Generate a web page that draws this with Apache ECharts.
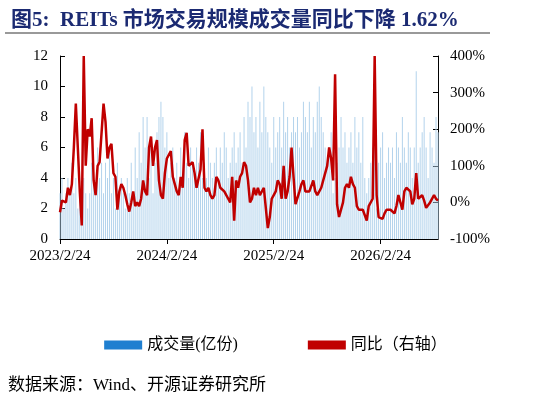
<!DOCTYPE html><html><head><meta charset="utf-8"><script src="https://cdn.jsdelivr.net/npm/echarts@6/dist/echarts.min.js"></script>
<style>body{margin:0}#c{width:551px;height:406px}</style></head><body><div id="c"></div><script>
const ratio=[-27,5,9,0,40,20,50,150,270,150,30,-63,400,100,200,180,230,60,20,100,110,110,270,220,120,150,160,80,70,-20,30,50,40,20,-5,-25,0,30,-10,0,-10,10,60,30,20,150,180,100,150,170,60,20,10,80,120,120,140,70,50,30,20,70,40,170,190,100,100,110,80,40,40,90,200,40,30,40,20,10,20,70,60,40,40,30,30,10,0,70,-50,60,40,70,80,110,100,60,0,10,40,20,40,20,20,40,40,-70,-40,10,20,30,60,50,10,100,10,30,70,150,70,-5,0,30,50,60,30,30,30,30,60,30,20,20,40,60,60,100,150,120,60,350,-5,-40,-45,0,40,50,40,70,50,40,-10,-20,-20,-20,-15,-50,-10,-5,10,400,20,-40,-40,-45,-30,-20,-25,-20,-20,-30,-10,20,20,-20,30,40,40,30,-5,10,80,10,10,20,5,-15,-15,0,0,20,10,5];
const volume=[3,4,2,3,4,3,5,3,4,2,3,2,4,3,2,3,5,4,3,6,4,5,3,5,4,6,3,4,2,5,3,4,3,2,4,3,5,3,6,4,7,5,8,6,8,4,6,3,5,7,8,9,8,6,7,4,5,6,4,5,3,6,4,7,5,4,6,5,4,6,5,7,4,5,4,6,5,4,5,6,4,6,5,7,6,4,5,6,7,5,6,7,5,8,6,9,8,10,7,8,6,9,7,10,8,7,6,5,8,6,7,8,6,9,7,8,6,7,8,7,8,6,7,9,8,7,9,6,8,7,9,10,8,7,6,5,6,7,3,4,5,6,8,6,7,5,6,7,5,8,6,7,5,8,4,3,4,5,6,7,2,5,6,7,4,5,6,5,6,4,7,6,5,8,6,5,7,6,4,6,11,5,6,7,8,6,4,7,6,5,8,7];
const tickLabels={0:'2023/2/24',54:'2024/2/24',108:'2025/2/24',162:'2026/2/24'};
const cats=ratio.map((_,i)=>tickLabels[i]||('w'+i));
const F='"Liberation Serif","Noto Sans CJK SC",serif';
const c=echarts.init(document.getElementById('c'));
c.setOption({animation:false,
title:{text:'图5:  REITs 市场交易规模成交量同比下降 1.62%',left:6,top:5,textStyle:{fontFamily:F,fontSize:21,fontWeight:'bold',color:'#1b2a72'}},
graphic:[{type:'line',shape:{x1:5,y1:33,x2:490,y2:33},style:{stroke:'#777',lineWidth:1.5}},
{type:'text',left:8,top:377,style:{text:'数据来源：Wind、开源证券研究所',font:'17px '+F,fill:'#000'}}],
legend:{bottom:48,left:'center',itemGap:70,textStyle:{fontFamily:F,fontSize:16,color:'#000'},
data:[{name:'成交量(亿份)',icon:'rect',itemStyle:{color:'#1f7fd0'}},{name:'同比（右轴）',icon:'rect'}],itemWidth:38,itemHeight:9},
grid:{left:60,right:113,top:56,bottom:167},
xAxis:{type:'category',data:cats,boundaryGap:false,
axisLine:{lineStyle:{color:'#000'}},axisTick:{interval:(i)=>tickLabels[i]!==undefined,length:5,lineStyle:{color:'#000'}},
axisLabel:{interval:(i)=>tickLabels[i]!==undefined,fontFamily:F,fontSize:15,color:'#000',margin:10}},
yAxis:[{type:'value',min:0,max:12,interval:2,axisLine:{show:true,lineStyle:{color:'#000'}},axisTick:{show:true,inside:true,lineStyle:{color:'#000'}},splitLine:{show:false},axisLabel:{fontFamily:F,fontSize:15,color:'#000',margin:12}},
{type:'value',min:-100,max:400,interval:100,axisLine:{show:true,lineStyle:{color:'#000'}},axisTick:{show:true,inside:true,lineStyle:{color:'#000'}},splitLine:{show:false},axisLabel:{formatter:'{value}%',fontFamily:F,fontSize:15,color:'#000',margin:12}}],
series:[{name:'成交量(亿份)',type:'bar',data:volume,barWidth:1,itemStyle:{color:'#b3d3ec'}},
{name:'同比（右轴）',type:'line',yAxisIndex:1,data:ratio,showSymbol:false,lineStyle:{width:2.5,color:'#c00000'},itemStyle:{color:'#c00000'}}]});
</script></body></html>
